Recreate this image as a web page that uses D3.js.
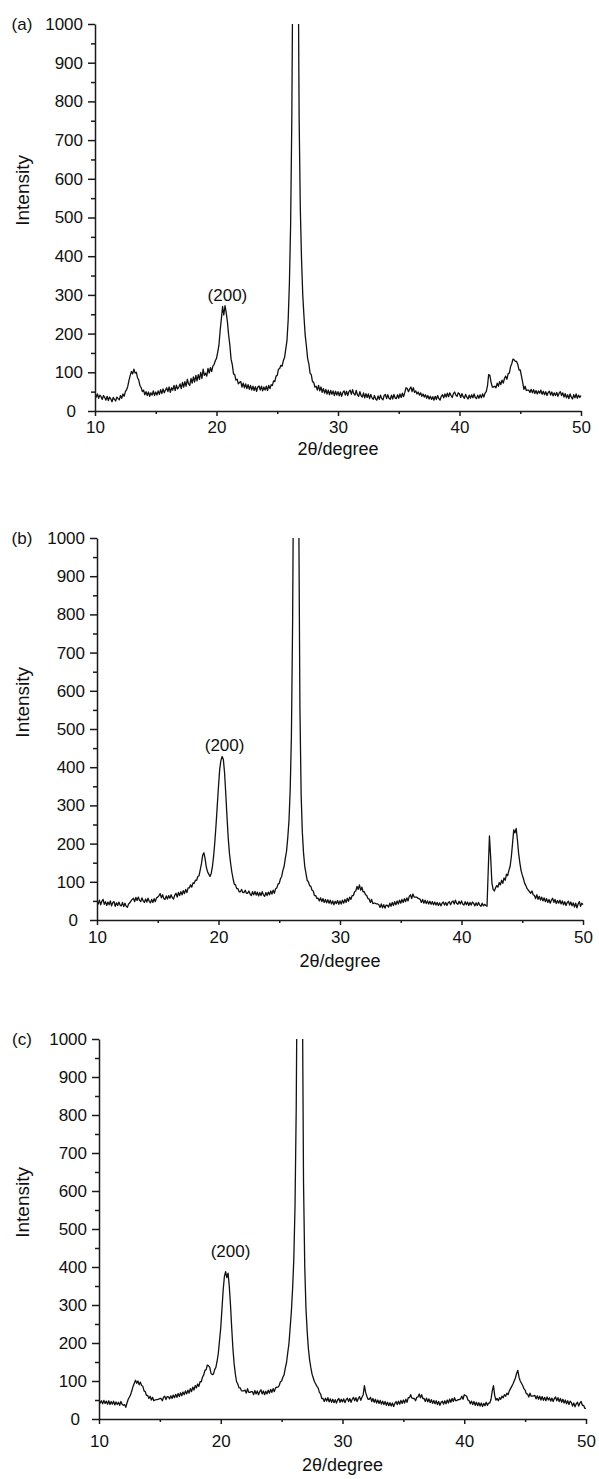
<!DOCTYPE html>
<html>
<head>
<meta charset="utf-8">
<title>XRD patterns</title>
<script src="https://cdn.jsdelivr.net/npm/d3@7"></script>
<style>
  body { margin: 0; background: #fff; }
  svg text { font-family: "Liberation Sans", Arial, sans-serif; fill: #111; }
  .axis path, .axis line { stroke: #1a1a1a; stroke-width: 1.5px; }
  .axis text { font-size: 17px; }
  .trace { fill: none; stroke: #111; stroke-width: 1.3px; stroke-linejoin: round; }
</style>
</head>
<body>
<script>
// scan: 10 to 50 degrees, 0.1 degree step
var scanStart = 10, scanStep = 0.1;

var intensityA = [
  46, 36, 44, 33, 41, 37, 30, 40, 35, 28,
  38, 27, 36, 31, 24, 35, 30, 26, 36, 32,
  29, 40, 33, 44, 38, 50, 55, 64, 80, 92,
  102, 96, 108, 98, 100, 86, 80, 66, 60, 50,
  54, 42, 50, 40, 49, 38, 47, 41, 52, 40,
  49, 41, 52, 43, 55, 45, 57, 47, 54, 60,
  50, 62, 48, 60, 54, 66, 53, 67, 57, 62,
  70, 58, 74, 62, 76, 64, 82, 70, 66, 84,
  72, 88, 75, 92, 78, 94, 82, 100, 84, 108,
  92, 98, 90, 110, 98, 112, 102, 116, 120, 130,
  136, 152, 170, 208, 238, 270, 248, 272, 254, 230,
  196, 170, 134, 120, 96, 94, 80, 82, 70, 74,
  76, 62, 72, 60, 70, 58, 68, 56, 66, 54,
  64, 53, 63, 51, 62, 65, 54, 64, 52, 62,
  54, 64, 53, 66, 58, 68, 66, 78, 76, 90,
  92, 108, 110, 118, 116, 130, 138, 160, 182, 236,
  330, 480, 760, 1250, 2200, 2900, 2300, 1300, 760, 520,
  390, 300, 244, 196, 168, 136, 122, 98, 94, 76,
  74, 62, 64, 54, 66, 52, 62, 48, 58, 46,
  56, 44, 54, 42, 53, 43, 52, 40, 51, 41,
  50, 39, 49, 38, 48, 52, 41, 51, 40, 50,
  54, 43, 55, 45, 41, 53, 42, 38, 50, 40,
  36, 47, 34, 45, 35, 44, 32, 43, 34, 30,
  40, 31, 28, 39, 30, 41, 32, 29, 40, 43,
  32, 42, 33, 30, 41, 31, 43, 34, 32, 42,
  33, 44, 35, 46, 37, 48, 60, 58, 50, 57,
  62, 50, 60, 48, 52, 44, 49, 41, 47, 38,
  44, 36, 42, 33, 40, 31, 38, 30, 37, 28,
  38, 30, 40, 32, 28, 38, 42, 34, 44, 36,
  46, 37, 47, 40, 35, 45, 49, 41, 38, 47,
  44, 35, 45, 37, 33, 43, 36, 31, 41, 33,
  42, 34, 44, 35, 32, 41, 33, 42, 34, 44,
  36, 46, 50, 64, 94, 92, 74, 62, 62, 64,
  60, 72, 64, 76, 68, 80, 72, 84, 90, 82,
  96, 98, 114, 122, 134, 132, 128, 128, 120, 106,
  106, 90, 74, 56, 64, 53, 54, 54, 48, 56,
  47, 55, 45, 53, 44, 52, 46, 54, 43, 51,
  42, 50, 40, 48, 51, 41, 49, 39, 47, 40,
  48, 38, 46, 50, 40, 47, 36, 45, 34, 42,
  32, 44, 36, 31, 42, 34, 44, 33, 41, 35,
  40
];

var intensityB = [
  50, 42, 52, 40, 49, 54, 41, 48, 38, 47,
  40, 50, 37, 46, 48, 36, 45, 38, 47, 39,
  37, 46, 35, 44, 36, 33, 42, 45, 50, 54,
  57, 48, 59, 51, 60, 52, 48, 58, 50, 46,
  55, 47, 57, 49, 45, 54, 46, 56, 48, 58,
  60, 64, 69, 58, 66, 56, 54, 63, 55, 64,
  57, 66, 58, 55, 65, 70, 60, 72, 64, 74,
  66, 77, 69, 80, 72, 84, 84, 92, 86, 97,
  96, 104, 104, 114, 116, 132, 148, 170, 176, 160,
  138, 126, 120, 114, 122, 140, 168, 205, 250, 300,
  350, 395, 418, 428, 420, 385, 330, 270, 215, 175,
  148, 125, 108, 94, 92, 82, 82, 74, 74, 80,
  72, 72, 78, 70, 70, 76, 68, 64, 74, 66,
  75, 65, 73, 63, 72, 64, 74, 66, 62, 72,
  64, 73, 66, 76, 68, 78, 70, 82, 84, 94,
  96, 108, 114, 130, 140, 162, 180, 215, 260, 340,
  480, 780, 1300, 2600, 3800, 2400, 1100, 560, 330, 230,
  175, 140, 122, 104, 100, 90, 88, 78, 76, 64,
  64, 56, 57, 50, 58, 48, 56, 46, 54, 45,
  53, 44, 52, 42, 50, 40, 49, 43, 51, 41,
  50, 42, 52, 44, 54, 46, 57, 49, 60, 54,
  64, 64, 74, 76, 88, 80, 92, 78, 86, 74,
  74, 66, 64, 56, 55, 46, 54, 43, 44, 44,
  42, 42, 40, 33, 42, 32, 40, 31, 39, 38,
  34, 44, 36, 46, 38, 48, 40, 50, 42, 52,
  44, 54, 46, 56, 48, 58, 50, 62, 66, 56,
  68, 60, 60, 60, 57, 56, 54, 46, 54, 44,
  52, 43, 50, 42, 49, 41, 48, 40, 47, 39,
  46, 38, 45, 37, 44, 47, 39, 46, 38, 45,
  48, 40, 47, 50, 42, 52, 44, 41, 49, 42,
  50, 42, 39, 48, 40, 47, 38, 46, 39, 47,
  44, 37, 45, 38, 46, 39, 36, 44, 37, 41,
  38, 36, 130, 220, 165, 98, 80, 76, 84, 90,
  86, 98, 92, 104, 96, 110, 104, 120, 116, 130,
  140, 165, 200, 236, 228, 240, 210, 175, 150, 130,
  118, 108, 96, 90, 82, 78, 74, 70, 76, 66,
  64, 56, 66, 54, 62, 52, 60, 50, 58, 48,
  56, 46, 54, 44, 52, 57, 46, 54, 43, 51,
  44, 52, 42, 50, 40, 48, 38, 46, 49, 39,
  47, 37, 45, 34, 44, 32, 42, 48, 36, 44,
  40
];

var intensityC = [
  50, 42, 48, 40, 49, 41, 47, 39, 48, 38,
  46, 39, 47, 37, 45, 38, 44, 36, 46, 39,
  36, 38, 31, 42, 52, 58, 64, 75, 86, 94,
  102, 94, 100, 90, 97, 88, 86, 74, 72, 62,
  62, 54, 60, 50, 57, 48, 50, 51, 51, 52,
  54, 54, 48, 57, 60, 51, 59, 58, 53, 61,
  54, 63, 56, 65, 57, 67, 59, 69, 61, 71,
  64, 74, 66, 76, 68, 80, 72, 84, 76, 88,
  82, 92, 86, 98, 98, 110, 116, 128, 130, 142,
  140, 136, 120, 117, 118, 130, 136, 152, 173, 207,
  240, 290, 340, 375, 388, 372, 384, 350, 300, 240,
  185, 145, 118, 98, 92, 82, 82, 74, 74, 74,
  76, 68, 80, 70, 70, 72, 72, 64, 75, 66,
  74, 64, 72, 77, 66, 74, 64, 73, 66, 76,
  68, 78, 70, 80, 72, 82, 84, 84, 88, 98,
  100, 110, 116, 134, 148, 174, 198, 240, 283, 342,
  420, 560, 820, 1300, 2400, 3200, 2200, 1150, 620, 400,
  290, 230, 185, 155, 135, 118, 108, 98, 92, 86,
  82, 70, 66, 54, 54, 46, 55, 47, 56, 45,
  53, 44, 52, 43, 51, 42, 50, 54, 44, 52,
  45, 53, 43, 51, 55, 46, 54, 44, 52, 57,
  48, 56, 46, 54, 59, 49, 57, 64, 88, 70,
  60, 52, 52, 57, 46, 54, 44, 52, 42, 50,
  41, 49, 39, 47, 38, 46, 36, 44, 35, 43,
  34, 42, 33, 41, 46, 38, 47, 39, 49, 41,
  50, 42, 52, 44, 56, 56, 64, 55, 54, 54,
  48, 57, 58, 66, 56, 64, 54, 54, 46, 55,
  45, 53, 43, 51, 41, 49, 40, 48, 38, 46,
  36, 44, 47, 39, 48, 40, 50, 42, 52, 44,
  54, 46, 56, 48, 49, 51, 51, 53, 60, 52,
  64, 62, 60, 50, 48, 40, 47, 38, 46, 36,
  44, 35, 43, 34, 42, 33, 41, 35, 44, 36,
  42, 42, 52, 74, 88, 62, 50, 54, 48, 56,
  52, 60, 56, 64, 60, 68, 64, 74, 80, 86,
  92, 100, 108, 120, 128, 110, 100, 94, 88, 80,
  76, 66, 66, 58, 68, 60, 60, 61, 62, 53,
  61, 52, 60, 50, 59, 49, 57, 48, 58, 50,
  56, 47, 55, 46, 54, 58, 48, 56, 46, 54,
  44, 52, 42, 50, 40, 48, 38, 47, 43, 34,
  42, 32, 40, 44, 34, 42, 46, 36, 36, 28,
  28
];

var panelLabels = ["(a)", "(b)", "(c)"];
var peakName = "(200)";
var peakLabelAt = [[20.9, 300], [20.5, 458], [20.8, 442]];
var xTickValues = [10, 20, 30, 40, 50];
var xMinorValues = [15, 25, 35, 45];
var yTickValues = [0, 100, 200, 300, 400, 500, 600, 700, 800, 900, 1000];
var yMinorValues = [50, 150, 250, 350, 450, 550, 650, 750, 850, 950];
var xTitle = "2\u03b8/degree";
var yTitle = "Intensity";

var width = 599, height = 1479;

var svg = d3.select("body").append("svg")
    .attr("width", width)
    .attr("height", height);

var panels = [
    { data: intensityA, left: 95, right: 581, top: 24, bottom: 411, tickPad: 5, titleGap: 38 },
    { data: intensityB, left: 97, right: 583, top: 538, bottom: 920, tickPad: 6, titleGap: 41 },
    { data: intensityC, left: 99, right: 586, top: 1039, bottom: 1419, tickPad: 11, titleGap: 46 }
];

panels.forEach(function (p, i) {
    var x = d3.scaleLinear().domain([10, 50]).range([p.left, p.right]);
    var y = d3.scaleLinear().domain([0, 1000]).range([p.bottom, p.top]);

    var g = svg.append("g");

    // clip the trace at the 1000 counts top
    svg.append("clipPath").attr("id", "clip" + i)
        .append("rect")
        .attr("x", p.left).attr("y", p.top)
        .attr("width", p.right - p.left + 2)
        .attr("height", p.bottom - p.top);

    var line = d3.line()
        .x(function (d, k) { return x(scanStart + k * scanStep); })
        .y(function (d) { return y(d); });

    g.append("path")
        .datum(p.data)
        .attr("class", "trace")
        .attr("clip-path", "url(#clip" + i + ")")
        .attr("d", line);

    // minor ticks
    g.append("g").attr("class", "axis")
        .attr("transform", "translate(0," + p.bottom + ")")
        .call(d3.axisBottom(x).tickValues(xMinorValues).tickSize(3).tickFormat(""))
        .select(".domain").remove();
    g.append("g").attr("class", "axis")
        .attr("transform", "translate(" + p.left + ",0)")
        .call(d3.axisLeft(y).tickValues(yMinorValues).tickSize(4).tickFormat(""))
        .select(".domain").remove();

    g.append("g").attr("class", "axis")
        .attr("transform", "translate(0," + p.bottom + ")")
        .call(d3.axisBottom(x).tickValues(xTickValues).tickSize(5)
            .tickSizeOuter(0).tickPadding(p.tickPad).tickFormat(d3.format("d")));

    var yAxis = g.append("g").attr("class", "axis")
        .attr("transform", "translate(" + p.left + ",0)")
        .call(d3.axisLeft(y).tickValues(yTickValues).tickSize(7)
            .tickSizeOuter(0).tickPadding(5).tickFormat(d3.format("d")));

    // the zero label sits a little further left in the original
    yAxis.selectAll(".tick text")
        .filter(function (d) { return d === 0; })
        .attr("x", -19);

    g.selectAll(".axis text").attr("fill", "#111");

    g.append("text")
        .attr("x", 22).attr("y", p.top)
        .attr("dy", "0.34em")
        .attr("text-anchor", "middle")
        .style("font-size", "17px")
        .text(panelLabels[i]);

    g.append("text")
        .attr("transform", "translate(22," + y(570) + ") rotate(-90)")
        .attr("dy", "0.35em")
        .attr("text-anchor", "middle")
        .style("font-size", "19px")
        .text(yTitle);

    g.append("text")
        .attr("x", (p.left + p.right) / 2)
        .attr("y", p.bottom + p.titleGap)
        .attr("dy", "0.35em")
        .attr("text-anchor", "middle")
        .style("font-size", "18px")
        .text(xTitle);

    g.append("text")
        .attr("x", x(peakLabelAt[i][0]))
        .attr("y", y(peakLabelAt[i][1]))
        .attr("dy", "0.35em")
        .attr("text-anchor", "middle")
        .style("font-size", "17px")
        .text(peakName);
});
</script>
</body>
</html>
